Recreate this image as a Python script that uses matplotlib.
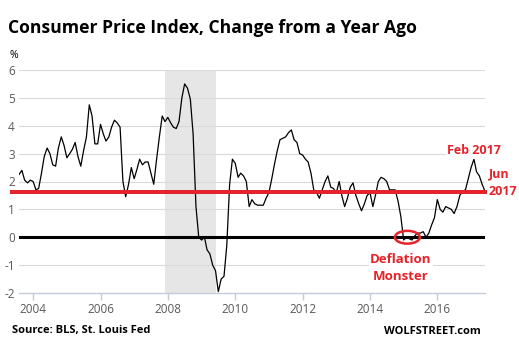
import pandas as pd
import matplotlib.pyplot as plt
from matplotlib.patches import Ellipse

# CPI, change from a year ago (%), monthly Aug 2003 - Jun 2017
months = pd.date_range('2003-08-01', '2017-06-01', freq='MS')
cpi_yoy = [
    2.25, 2.4, 2.05, 1.95, 2.05,                                        # 2003
    2.0, 1.7, 1.75, 2.3, 2.9, 3.2, 3.0, 2.6, 2.55, 3.2, 3.6, 3.3,       # 2004
    2.85, 3.0, 3.15, 3.4, 2.9, 2.55, 3.1, 3.6, 4.75, 4.35, 3.35, 3.35,  # 2005
    4.05, 3.7, 3.45, 3.6, 3.95, 4.2, 4.1, 3.95, 2.0, 1.45, 1.9, 2.5,    # 2006
    2.1, 2.45, 2.8, 2.6, 2.7, 2.7, 2.3, 1.9, 2.8, 3.6, 4.35, 4.15,      # 2007
    4.3, 4.1, 3.95, 3.9, 4.15, 5.0, 5.5, 5.35, 4.95, 3.7, 1.1, 0.0,     # 2008
    -0.1, 0.0, -0.45, -0.6, -1.0, -1.2, -1.95, -1.5, -1.4, -0.3, 1.9, 2.8,  # 2009
    2.65, 2.15, 2.3, 2.2, 2.0, 1.1, 1.35, 1.2, 1.15, 1.15, 1.15, 1.4,   # 2010
    1.6, 2.1, 2.6, 3.1, 3.5, 3.55, 3.6, 3.75, 3.85, 3.5, 3.4, 3.0,      # 2011
    2.95, 2.8, 2.7, 2.3, 1.7, 1.6, 1.4, 1.7, 2.0, 2.2, 1.8, 1.75,       # 2012
    1.6, 2.0, 1.5, 1.1, 1.4, 1.8, 1.95, 1.5, 1.2, 0.95, 1.2, 1.5,       # 2013
    1.6, 1.1, 1.5, 2.0, 2.15, 2.1, 2.0, 1.7, 1.7, 1.7, 1.3, 0.75,       # 2014
    -0.1, 0.0, -0.05, -0.1, 0.05, 0.15, 0.15, 0.2, 0.0, 0.15, 0.45, 0.7,  # 2015
    1.35, 1.0, 0.9, 1.1, 1.05, 1.0, 0.85, 1.1, 1.5, 1.65, 1.7, 2.1,     # 2016
    2.5, 2.8, 2.35, 2.2, 1.9, 1.65,                                     # 2017
]
latest = 1.63
recession = ('2007-12-01', '2009-06-01')
year_ticks = [2004, 2006, 2008, 2010, 2012, 2014, 2016]
y_ticks = [-2, -1, 0, 1, 2, 3, 4, 5, 6]

RED = '#e5232b'
GREY = '#595959'

fig = plt.figure(figsize=(5.19, 3.5), dpi=100)
ax = fig.add_axes([19 / 519, 57 / 350, 466 / 519, 223 / 350])

ax.axvspan(pd.Timestamp(recession[0]), pd.Timestamp(recession[1]),
           color='#e6e6e6', lw=0, zorder=0)
for v in y_ticks[1:]:
    ax.axhline(v, color='#d9d9d9', lw=0.8, zorder=1)

ax.plot(months, cpi_yoy, color='black', lw=0.9, zorder=3)
ax.axhline(0, color='black', lw=2.2, zorder=2)
ax.axhline(latest, xmin=-0.016, xmax=1, color=RED, lw=2.9, zorder=4, clip_on=False)

ax.set_xlim(months[0], months[-1])
ax.set_ylim(-2, 6)
ax.set_yticks(y_ticks)
ax.set_yticklabels([str(v) for v in y_ticks])
ax.set_xticks([pd.Timestamp(f'{y}-01-01') for y in year_ticks])
ax.set_xticklabels([str(y) for y in year_ticks])
for s in ['top', 'right', 'left']:
    ax.spines[s].set_visible(False)
ax.spines['bottom'].set_color('#c3cbd8')
ax.spines['bottom'].set_linewidth(1.0)
ax.tick_params(axis='y', length=0, pad=3, labelsize=8.5, labelcolor=GREY)
ax.tick_params(axis='x', length=5, width=1, color='#c3cbd8', pad=2,
               labelsize=8.5, labelcolor=GREY)
for lbl in ax.get_xticklabels() + ax.get_yticklabels():
    lbl.set_fontfamily('Open Sans')

# annotations
box = dict(facecolor='white', edgecolor='none', pad=1)
ax.text(pd.Timestamp('2017-02-01'), 3.1, 'Feb 2017', color=RED, fontsize=9,
        fontweight='bold', ha='center', va='center', family='Open Sans', bbox=box)
ax.text(1.008, (1.95 + 2) / 8, 'Jun\n2017', transform=ax.transAxes, color=RED,
        fontsize=9, fontweight='bold', ha='left', va='center', family='Open Sans',
        linespacing=1.5, clip_on=False)
ax.text(pd.Timestamp('2014-12-01'), -1.1, 'Deflation\nMonster', color=RED,
        fontsize=9.5, fontweight='bold', ha='center', va='center', family='Open Sans',
        linespacing=1.45, bbox=box, zorder=5)
ax.add_patch(Ellipse((pd.Timestamp('2015-02-10'), 0.0), width=270, height=0.46,
                     fill=False, edgecolor=RED, lw=1.8, zorder=6))

fig.text(8 / 519, 1 - 28 / 350, 'Consumer Price Index, Change from a Year Ago',
         fontsize=12.6, fontweight='bold', family='Open Sans', va='center')
fig.text(10 / 519, 1 - 55 / 350, '%', fontsize=7.5, family='Open Sans', va='center')
fig.text(12 / 519, 1 - 331 / 350, 'Source: BLS, St. Louis Fed', fontsize=8,
         fontweight='bold', family='Open Sans', va='center')
fig.text(481 / 519, 1 - 331 / 350, 'WOLFSTREET.com', fontsize=8,
         fontweight='bold', family='Open Sans', va='center', ha='right')

fig.savefig('out.png', dpi=100)
